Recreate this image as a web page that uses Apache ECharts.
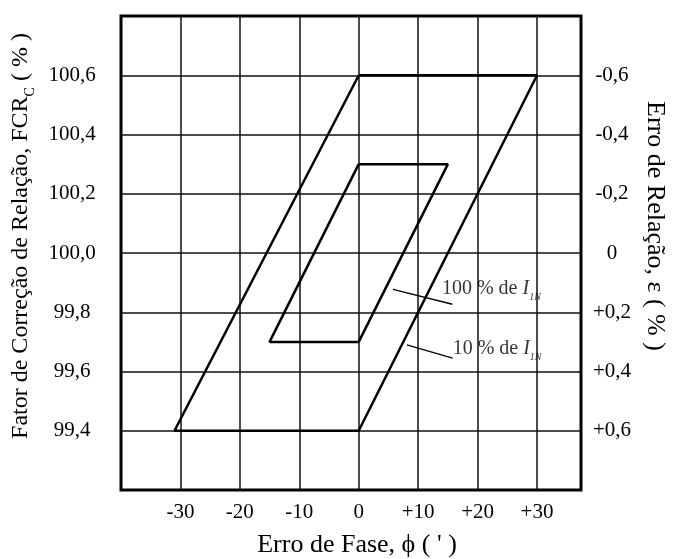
<!DOCTYPE html>
<html>
<head>
<meta charset="utf-8">
<script src="https://cdn.jsdelivr.net/npm/echarts@6/dist/echarts.min.js"></script>
<style>
  html, body { margin: 0; padding: 0; background: #fff; }
  #chart { width: 681px; height: 559px; }
</style>
</head>
<body>
<div id="chart"></div>
<script>
// Limits of accuracy (phase error in minutes vs ratio correction factor in %)
const outerPhase = [0, 30, 0, -31, 0];          // 10 % de I1N
const outerFcr   = [100.6, 100.6, 99.4, 99.4, 100.6];
const innerPhase = [0, 15, 0, -15, 0];          // 100 % de I1N
const innerFcr   = [100.3, 100.3, 99.7, 99.7, 100.3];

// Axis ticks
const phaseTicks = [-30, -20, -10, 0, 10, 20, 30];
const fcrTicks = [99.4, 99.6, 99.8, 100.0, 100.2, 100.4, 100.6];
const errTicks = [-0.6, -0.4, -0.2, 0, 0.2, 0.4, 0.6];

// Callout texts, their anchors and leader lines (data coordinates)
const calloutText = ['100 % de ', '10 % de '];
const calloutPhase = [14.0, 15.8];
const calloutFcr = [99.878, 99.676];
const leader100Phase = [5.75, 15.76];
const leader100Fcr = [99.877, 99.827];
const leader10Phase = [8.1, 15.8];
const leader10Fcr = [99.69, 99.645];

const FONT = '"Liberation Serif", "DejaVu Serif", serif';
const black = '#000';

function zip(xs, ys) { return xs.map((x, i) => [x, ys[i]]); }
function near(list, v) { return list.some(t => Math.abs(t - v) < 1e-6); }
function commaNum(v) { return v.toFixed(1).replace('.', ','); }

const chart = echarts.init(document.getElementById('chart'), null, { renderer: 'canvas' });

const subRich = {
  a: { fontFamily: FONT, fontSize: 24, color: black },
  s: { fontFamily: FONT, fontSize: 14, color: black, verticalAlign: 'bottom', padding: [0, 0, -5, 0] }
};

chart.setOption({
  backgroundColor: '#fff',
  animation: false,
  grid: {
    left: 121, right: 100, top: 16, bottom: 69,
    outerBoundsMode: 'none', containLabel: false,
    show: true, borderColor: black, borderWidth: 3, backgroundColor: 'transparent', z: 10
  },
  xAxis: {
    type: 'value', min: -40, max: 37.4, interval: 10,
    axisLine: { show: false }, axisTick: { show: false },
    splitLine: { show: true, lineStyle: { color: '#111', width: 1.5 } },
    axisLabel: {
      margin: 12, fontFamily: FONT, fontSize: 21, color: black,
      formatter: v => near(phaseTicks, v) ? (v > 0 ? '+' + v : String(v)) : ''
    },
    name: "Erro de Fase, ϕ ( ' )",
    nameLocation: 'middle', nameGap: 42,
    nameTextStyle: { fontFamily: FONT, fontSize: 26, color: black, padding: [0, 0, 0, 12] }
  },
  yAxis: [
    {
      type: 'value', min: 99.2, max: 100.8, interval: 0.2,
      axisLine: { show: false }, axisTick: { show: false },
      splitLine: { show: true, lineStyle: { color: '#111', width: 1.5 } },
      axisLabel: {
        margin: 49, align: 'center', fontFamily: FONT, fontSize: 21, color: black,
        formatter: v => near(fcrTicks, v) ? commaNum(v) : ''
      },
      name: '{a|Fator de Correção de Relação, FCR}{s|C}{a| ( % )}',
      nameLocation: 'middle', nameGap: 84,
      nameTextStyle: { rich: subRich, padding: [0, 0, 0, 34] }
    },
    {
      type: 'value', min: -0.8, max: 0.8, interval: 0.2, inverse: true, position: 'right',
      axisLine: { show: false }, axisTick: { show: false }, splitLine: { show: false },
      axisLabel: {
        margin: 31, align: 'center', fontFamily: FONT, fontSize: 21, color: black,
        formatter: v => {
          if (!near(errTicks, v)) return '';
          if (Math.abs(v) < 1e-9) return '0';
          return (v > 0 ? '+' : '-') + commaNum(Math.abs(v));
        }
      },
      name: 'Erro de Relação, ε ( % )',
      nameLocation: 'middle', nameGap: 57, nameRotate: -90,
      nameTextStyle: { fontFamily: FONT, fontSize: 26, color: black, padding: [0, 54, 0, 0] }
    }
  ],
  series: [
    {
      name: '10 % de I1N', type: 'line', data: zip(outerPhase, outerFcr),
      symbol: 'none', lineStyle: { color: black, width: 2.5 }, z: 5
    },
    {
      name: '100 % de I1N', type: 'line', data: zip(innerPhase, innerFcr),
      symbol: 'none', lineStyle: { color: black, width: 2.5 }, z: 5
    },
    {
      type: 'line', data: zip(leader100Phase, leader100Fcr),
      symbol: 'none', lineStyle: { color: black, width: 1.3 }, z: 4
    },
    {
      type: 'line', data: zip(leader10Phase, leader10Fcr),
      symbol: 'none', lineStyle: { color: black, width: 1.3 }, z: 4
    },
    {
      type: 'scatter', symbolSize: 0, z: 6,
      data: calloutText.map((t, i) => ({ value: [calloutPhase[i], calloutFcr[i]], name: t })),
      label: {
        show: true, position: 'right', distance: 0,
        formatter: p => '{n|' + p.name + '}{i|I}{s|1N}',
        rich: {
          n: { fontFamily: FONT, fontSize: 20, color: black },
          i: { fontFamily: FONT, fontSize: 20, fontStyle: 'italic', color: black },
          s: { fontFamily: FONT, fontSize: 10, fontStyle: 'italic', color: black, verticalAlign: 'bottom', padding: [0, 0, -3, 0] }
        }
      }
    }
  ]
});
</script>
</body>
</html>
